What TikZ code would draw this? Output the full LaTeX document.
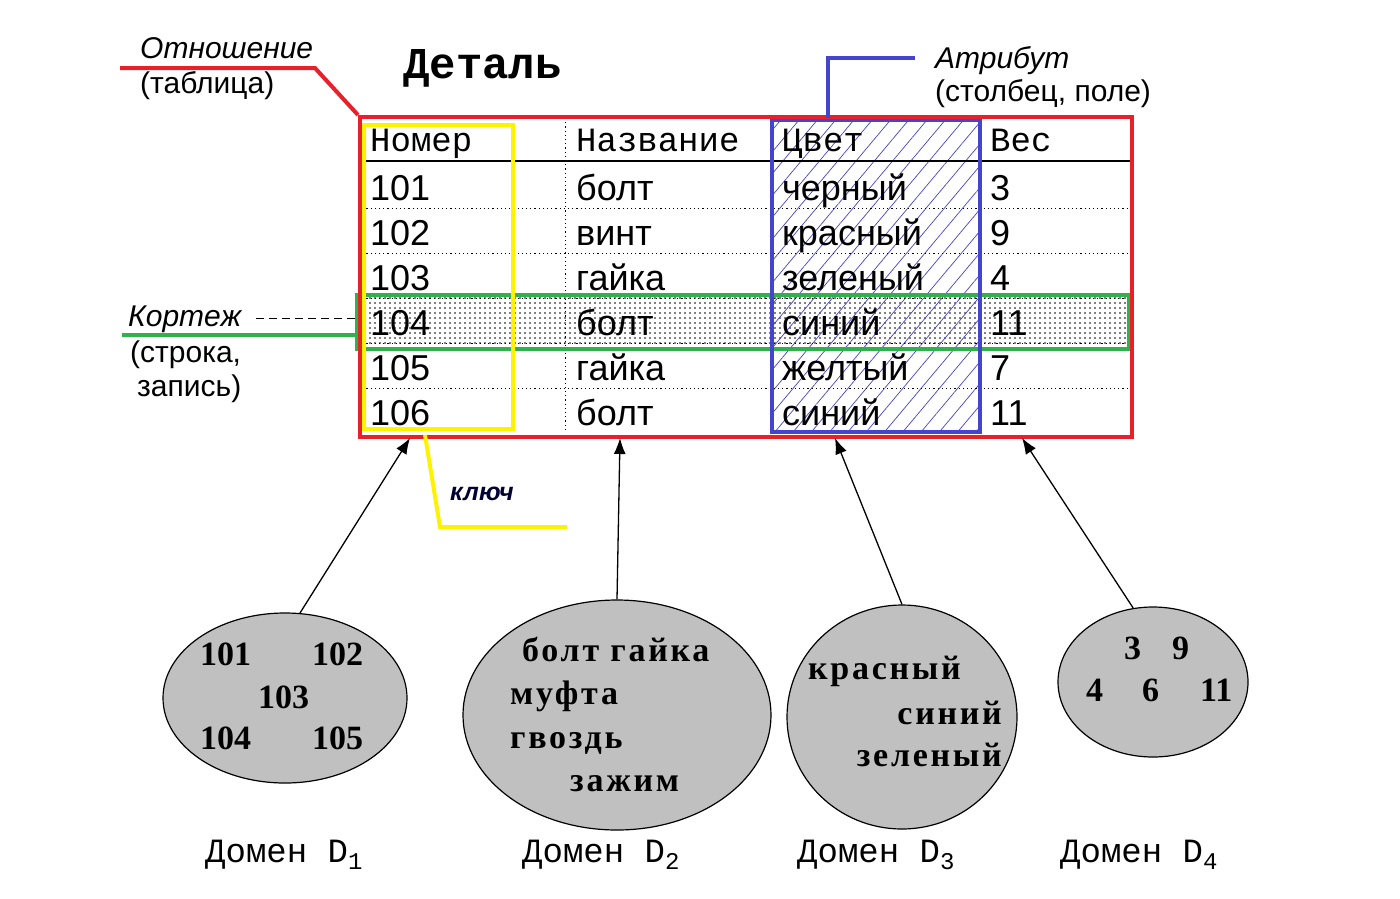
\documentclass[tikz,border=0pt]{standalone}
\usepackage{fontspec}
\setmainfont{Liberation Serif}
\newfontfamily\sansf{Liberation Sans}
\newfontfamily\monof{Liberation Mono}
\newfontfamily\domf[LetterSpace=8]{Liberation Serif}
\usetikzlibrary{shapes.geometric,arrows.meta,patterns.meta}
\definecolor{relred}{HTML}{E8202A}
\definecolor{tupgreen}{HTML}{2DB34A}
\definecolor{keyyellow}{HTML}{FFF200}
\definecolor{attrblue}{HTML}{4444CC}
\definecolor{domgray}{HTML}{C0C0C0}
\newcommand\dsub[1]{\raisebox{-7pt}{\fontsize{24}{24}\selectfont #1}}

\begin{document}
\begin{tikzpicture}[x=1pt,y=-1pt,
  frame/.style={draw,line width=4pt,inner sep=0pt,anchor=north west},
  cell/.style={anchor=base west,inner sep=0pt,font=\sansf\fontsize{36}{36}\selectfont},
  hdr/.style={anchor=base west,inner sep=0pt,font=\monof\fontsize{34}{34}\selectfont},
  note/.style={anchor=base west,inner sep=0pt,font=\sansf\itshape\fontsize{30}{30}\selectfont},
  plain/.style={anchor=base west,inner sep=0pt,font=\sansf\fontsize{30}{30}\selectfont},
  rowsep/.style={line width=1pt,dash pattern=on 1.2pt off 3pt},
  dom/.style={ellipse,draw,fill=domgray,line width=1.2pt,inner sep=0pt},
  dval/.style={anchor=base west,inner sep=0pt,font=\bfseries\fontsize{34}{34}\selectfont},
  dword/.style={dval,font=\domf\bfseries\fontsize{34}{34}\selectfont},
  dname/.style={anchor=base west,inner sep=0pt,font=\monof\fontsize{34}{34}\selectfont},
  link/.style={line width=1.3pt,-{Latex[length=16pt,width=12pt]}}
]
\useasboundingbox[fill=white] (0,0) rectangle (1400,898);

% Tuple row and attribute column backgrounds
\fill[pattern={Dots[distance=5pt,radius=0.85pt]}] (355,293) rectangle (1127,347);
\fill[pattern={Lines[angle=50,distance=14pt,line width=0.7pt]},pattern color=attrblue] (770,118) rectangle (978,430);

% Table grid
\draw[line width=1.5pt] (358,161) -- (1130,161);
\foreach \y in {208,253,298,343,388} \draw[rowsep] (358,\y) -- (1130,\y);
\draw[rowsep] (565,118) -- (565,432);

% Header
\node[hdr] (hnum) at (370,151) {Номер};
\node[hdr] (hname) at (576,151) {Название};
\node[hdr] (hcol) at (782,151) {Цвет};
\node[hdr] (hwt) at (990,151) {Вес};

% Rows
\foreach \y/\n/\m/\c/\w in {200/101/болт/черный/3, 245/102/винт/красный/9,
    290/103/гайка/зеленый/4, 335/104/болт/синий/11, 380/105/гайка/желтый/7,
    425/106/болт/синий/11} {
  \node[cell] (num\n) at (370,\y) {\n};
  \node[cell] (name\n) at (576,\y) {\m};
  \node[cell] (col\n) at (782,\y) {\c};
  \node[cell] (wt\n) at (990,\y) {\w};
}

% Frames
\node[frame,draw=tupgreen,minimum width=772pt,minimum height=54pt] (tup) at (355,293) {};
\node[frame,draw=keyyellow,minimum width=149pt,minimum height=304pt] (key) at (362,123) {};
\node[frame,draw=attrblue,minimum width=208pt,minimum height=312pt] (attr) at (770,118) {};
\node[frame,draw=relred,minimum width=772pt,minimum height=320pt] (tbl) at (358,115) {};

% Title
\node[anchor=base west,inner sep=0pt,font=\monof\bfseries\fontsize{44}{44}\selectfont] (title) at (403,78) {Деталь};

% Relation label
\node[note] (rel) at (140,58) {Отношение};
\node[plain] (rel2) at (140,93) {(таблица)};
\coordinate (relend) at (120,68);
\draw[relred,line width=4pt] (relend) -- (315,68) -- (tbl.north west);

% Attribute label
\node[note] (att) at (935,68) {Атрибут};
\node[plain] (att2) at (935,101) {(столбец, поле)};
\draw[attrblue,line width=4pt] (attr.north west -| 828,0) -- (828,58) -- (915,58);

% Tuple label
\node[note] (tpl) at (128,326) {Кортеж};
\node[plain] (tpl2) at (130,362) {(строка,};
\node[plain] (tpl3) at (137,396) {запись)};
\coordinate (tplend) at (122,335);
\draw[tupgreen,line width=4pt] (tplend) -- (tup.west |- tplend);
\draw[line width=1pt,dash pattern=on 8pt off 5pt] (tpl.east |- 0,318) ++(15,0) -- (360,318);

% Key label
\node[anchor=base west,inner sep=0pt,font=\sansf\bfseries\itshape\fontsize{25}{25}\selectfont,text=black!80!blue] (kl) at (450,500) {ключ};
\draw[keyyellow,line width=4pt] (425,435) -- (440,527) -- (567,527);

% Domains
\node[dom,minimum width=244pt,minimum height=170pt] (d1) at (285,698) {};
\node[dom,minimum width=308pt,minimum height=230pt] (d2) at (617,715) {};
\node[dom,minimum width=230pt,minimum height=224pt] (d3) at (902,717) {};
\node[dom,minimum width=190pt,minimum height=150pt] (d4) at (1153,682) {};

\node[dval] (v101) at (200,665) {101};
\node[dval] (v102) at (312,665) {102};
\node[dval] (v103) at (258,708) {103};
\node[dval] (v104) at (200,749) {104};
\node[dval] (v105) at (312,749) {105};

\node[dword] (v21) at (522,661) {болт\ гайка};
\node[dword] (v22) at (510,704) {муфта};
\node[dword] (v23) at (510,748) {гвоздь};
\node[dword] (v24) at (570,791) {зажим};

\node[dword] (v31) at (808,679) {красный};
\node[dword,anchor=base east] (v32) at (1002,724) {синий};
\node[dword,anchor=base east] (v33) at (1002,766) {зеленый};

\node[dval] (v3) at (1124,659) {3};
\node[dval] (v9) at (1172,659) {9};
\node[dval] (v4) at (1086,701) {4};
\node[dval] (v6) at (1142,701) {6};
\node[dval] (v11) at (1200,701) {11};

\node[dname] (n1) at (205,862) {Домен D\dsub{1}};
\node[dname] (n2) at (522,862) {Домен D\dsub{2}};
\node[dname] (n3) at (797,862) {Домен D\dsub{3}};
\node[dname] (n4) at (1060,862) {Домен D\dsub{4}};

% Domain arrows
\coordinate (t1) at (410,438);
\coordinate (t2) at (620,438);
\coordinate (t3) at (835,438);
\coordinate (t4) at (1022,438);
\draw[link] (d1.80) -- (t1);
\draw[link] (d2.north) -- (t2);
\draw[link] (d3.north) -- (t3);
\draw[link] (d4.105) -- (t4);
\end{tikzpicture}
\end{document}
